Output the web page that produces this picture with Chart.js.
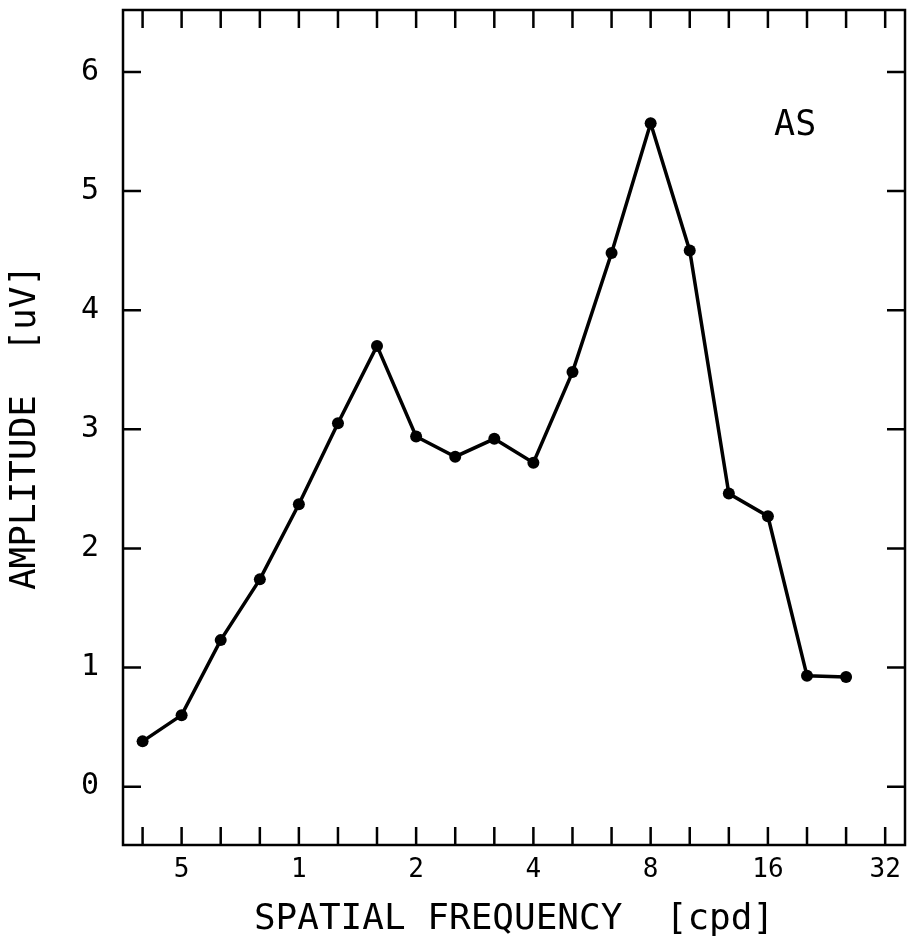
<!DOCTYPE html>
<html>
<head>
<meta charset="utf-8">
<script src="https://cdn.jsdelivr.net/npm/chart.js@4"></script>
<style>
  body { margin: 0; background: #fff; }
  canvas { display: block; }
</style>
</head>
<body>
<canvas id="chart" width="911" height="945"></canvas>
<script>
// spatial frequency (cpd), third-octave steps
const freqs = [0.397, 0.5, 0.63, 0.794, 1, 1.26, 1.587, 2, 2.52, 3.175, 4, 5.04, 6.35, 8, 10.08, 12.7, 16, 20.16, 25.4];
// amplitude (uV)
const amplitude = [0.38, 0.60, 1.23, 1.74, 2.37, 3.05, 3.70, 2.94, 2.77, 2.92, 2.72, 3.48, 4.48, 5.57, 4.50, 2.46, 2.27, 0.93, 0.92];

const xTickValues = [0.397, 0.5, 0.63, 0.794, 1, 1.26, 1.587, 2, 2.52, 3.175, 4, 5.04, 6.35, 8, 10.08, 12.7, 16, 20.16, 25.4, 32];
const xLabelValues = [0.5, 1, 2, 4, 8, 16, 32];
const xLabelText = ["5", "1", "2", "4", "8", "16", "32"];
const yTickValues = [0, 1, 2, 3, 4, 5, 6];

const FONT = "'DejaVu Sans Mono', monospace";
Chart.defaults.font.family = FONT;
Chart.defaults.color = "#000";

// frame + inward ticks on all four sides, and the "AS" tag
const frameTicks = {
  id: "frameTicks",
  afterDraw(chart) {
    const ctx = chart.ctx;
    const a = chart.chartArea;
    const xs = chart.scales.x;
    const ys = chart.scales.y;
    const len = 18;
    ctx.save();
    ctx.strokeStyle = "#000";
    ctx.lineWidth = 2.5;
    ctx.strokeRect(a.left, a.top, a.right - a.left, a.bottom - a.top);
    ctx.beginPath();
    xTickValues.forEach((v) => {
      const px = xs.getPixelForValue(v);
      ctx.moveTo(px, a.bottom);
      ctx.lineTo(px, a.bottom - len);
      ctx.moveTo(px, a.top);
      ctx.lineTo(px, a.top + len);
    });
    yTickValues.forEach((v) => {
      const py = ys.getPixelForValue(v);
      ctx.moveTo(a.left, py);
      ctx.lineTo(a.left + len, py);
      ctx.moveTo(a.right, py);
      ctx.lineTo(a.right - len, py);
    });
    ctx.stroke();

    ctx.fillStyle = "#000";
    ctx.font = "35px " + FONT;
    ctx.textAlign = "center";
    ctx.textBaseline = "middle";
    ctx.fillText("AS", xs.getPixelForValue(18.8), ys.getPixelForValue(5.55));
    ctx.restore();
  }
};

new Chart(document.getElementById("chart"), {
  type: "line",
  data: {
    datasets: [{
      data: freqs.map((f, i) => ({ x: f, y: amplitude[i] })),
      borderColor: "#000",
      backgroundColor: "#000",
      borderWidth: 3.5,
      pointRadius: 6,
      pointBorderWidth: 0,
      tension: 0
    }]
  },
  options: {
    responsive: false,
    devicePixelRatio: 1,
    animation: false,
    layout: { padding: { top: 10, right: 3, left: 0, bottom: 0 } },
    plugins: { legend: { display: false }, tooltip: { enabled: false } },
    scales: {
      x: {
        type: "logarithmic",
        min: 0.3536,
        max: 35.98,
        grid: { display: false, drawTicks: false },
        border: { display: false },
        afterBuildTicks: (scale) => {
          scale.ticks = xTickValues.map((v) => ({ value: v }));
        },
        afterFit: (scale) => {
          scale.height = 100;
          scale.paddingLeft = 0;
          scale.paddingRight = 0;
        },
        ticks: {
          autoSkip: false,
          maxRotation: 0,
          padding: 10,
          font: { size: 26 },
          callback: (value) => {
            const i = xLabelValues.findIndex((v) => Math.abs(v - value) < 1e-6);
            return i >= 0 ? xLabelText[i] : "";
          }
        },
        title: {
          display: true,
          text: "SPATIAL FREQUENCY  [cpd]",
          font: { size: 36 },
          padding: { top: 0, bottom: 4 }
        }
      },
      y: {
        min: -0.49,
        max: 6.52,
        grid: { display: false, drawTicks: false },
        border: { display: false },
        afterBuildTicks: (scale) => {
          scale.ticks = yTickValues.map((v) => ({ value: v }));
        },
        afterFit: (scale) => {
          scale.width = 123;
          scale.paddingTop = 0;
          scale.paddingBottom = 0;
        },
        ticks: { padding: 24, font: { size: 30 } },
        title: {
          display: true,
          text: "AMPLITUDE  [uV]",
          font: { size: 36 },
          padding: { top: 4, bottom: 0 }
        }
      }
    }
  },
  plugins: [frameTicks]
});
</script>
</body>
</html>
